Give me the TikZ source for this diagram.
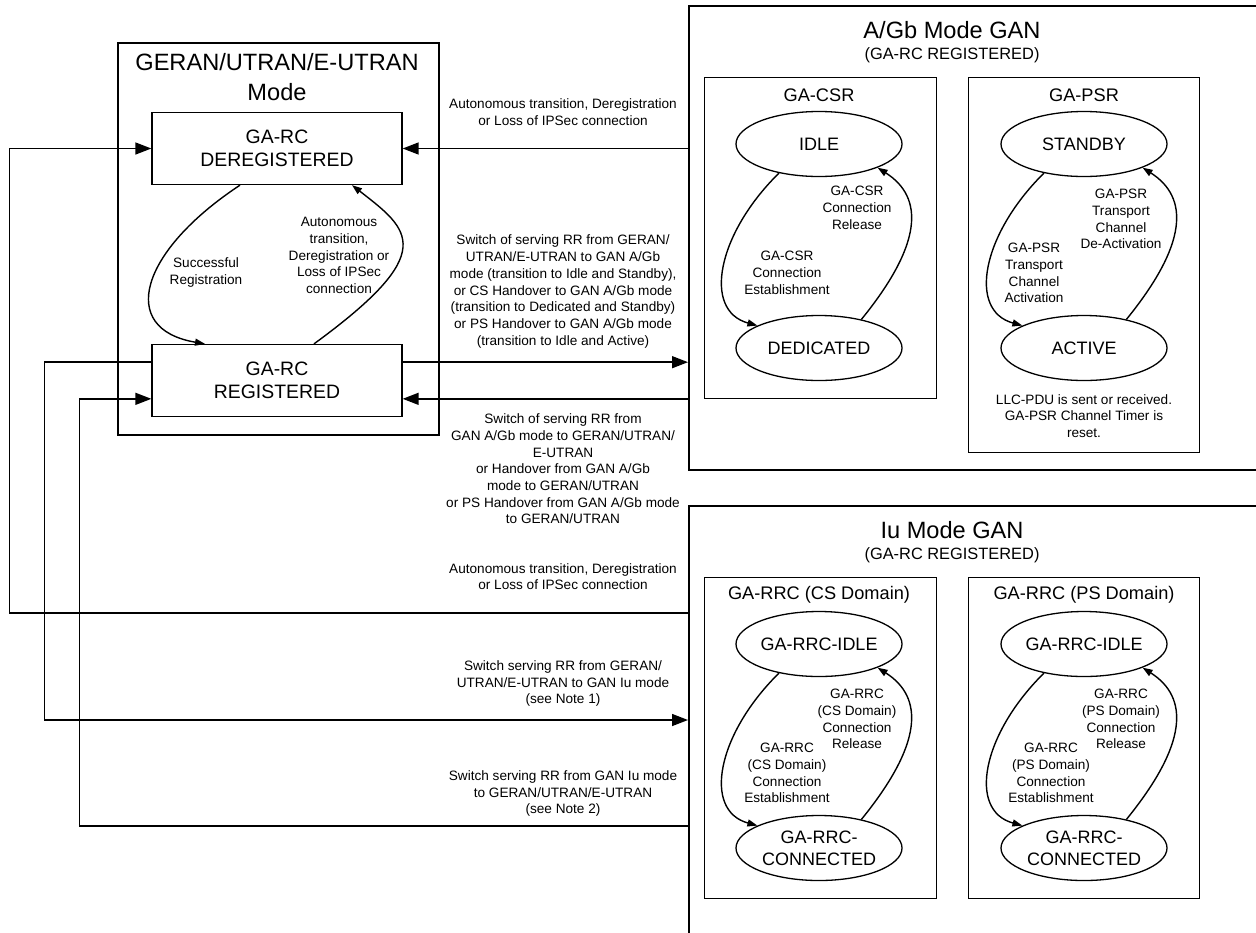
\documentclass[tikz,border=0pt]{standalone}
\usepackage{fontspec}
\setmainfont{Liberation Sans}
\usetikzlibrary{shapes.geometric,arrows.meta,calc}
\begin{document}
\begin{tikzpicture}[x=0.5pt,y=-0.5pt,
  modebox/.style={draw,line width=1.2pt,inner sep=0,anchor=north west},
  subbox/.style={draw,line width=0.65pt,inner sep=0,anchor=north west},
  rcbox/.style={draw,line width=0.65pt,minimum width=125pt,minimum height=36pt,align=center,
    font=\fontsize{9.7}{11.5}\selectfont},
  state/.style={ellipse,draw,line width=0.65pt,minimum width=83pt,minimum height=32.5pt,inner sep=0,
    align=center,font=\fontsize{9}{10.8}\selectfont},
  conn/.style={line width=0.7pt,-{Triangle[length=8pt,width=6pt]}},
  loop/.style={line width=0.7pt,-{Triangle[length=5pt,width=3.5pt]}},
  note/.style={align=center,inner sep=0,font=\fontsize{6.8}{8.35}\selectfont},
  title/.style={align=center,inner sep=0,font=\fontsize{11.8}{15}\selectfont},
  subtitle/.style={inner sep=0,font=\fontsize{8.2}{10}\selectfont},
  boxtitle/.style={inner sep=0,font=\fontsize{9.1}{11}\selectfont}]
\useasboundingbox (0,0) rectangle (1256,932);
% GERAN/UTRAN/E-UTRAN mode
\node[modebox,minimum width=160.5pt,minimum height=196pt] (geran) at (117,42) {};
\node[title] (gerantitle) at (277,77) {GERAN/UTRAN/E-UTRAN\\Mode};
\node[rcbox] (dereg) at (277,148.5) {GA-RC\\DEREGISTERED};
\node[rcbox] (reg) at (277,380.5) {GA-RC\\REGISTERED};
\draw[loop] ([xshift=-18.5pt]dereg.south) .. controls +(-100,66) and +(-88,-15) .. ([xshift=-36pt]reg.north);
\draw[loop] ([xshift=18.5pt]reg.north) .. controls +(126,-92) and +(58,45) .. ([xshift=37.5pt]dereg.south);
\node[note] (regnote) at (206,272.5) {Successful\\Registration};
\node[note] (deregnote) at (339,255.5) {Autonomous\\transition,\\Deregistration or\\Loss of IPSec\\connection};
% A/Gb mode GAN
\node[modebox,minimum width=287pt,minimum height=232pt] (agb) at (688,5) {};
\node[title] (agbtitle) at (952,30) {A/Gb Mode GAN};
\node[subtitle] (agbsub) at (952,55) {(GA-RC REGISTERED)};
\node[subbox,minimum width=116pt,minimum height=160.5pt] (csr) at (704,77) {};
\node[subbox,minimum width=115.5pt,minimum height=187.5pt] (psr) at (968,77) {};
\node[boxtitle] (csrtitle) at (819,95) {GA-CSR};
\node[boxtitle] (psrtitle) at (1084,95) {GA-PSR};
\node[state] (idle) at (819,144) {IDLE};
\node[state] (dedicated) at (819,348) {DEDICATED};
\node[state] (standby) at (1084,144) {STANDBY};
\node[state] (active) at (1084,348) {ACTIVE};
\draw[loop] (idle.216) .. controls +(-62,61) and +(-55,-15) .. (dedicated.160);
\draw[loop] (dedicated.34) .. controls +(61,-75) and +(47,30) .. (idle.338);
\draw[loop] (standby.216) .. controls +(-62,61) and +(-55,-15) .. (active.160);
\draw[loop] (active.34) .. controls +(61,-75) and +(47,30) .. (standby.338);
\node[note] (csrrel) at (857,208) {GA-CSR\\Connection\\Release};
\node[note] (csrest) at (787,273) {GA-CSR\\Connection\\Establishment};
\node[note] (psrdeact) at (1121,219) {GA-PSR\\Transport\\Channel\\De-Activation};
\node[note] (psract) at (1034,273) {GA-PSR\\Transport\\Channel\\Activation};
\node[note] (llc) at (1084,416) {LLC-PDU is sent or received.\\GA-PSR Channel Timer is\\reset.};
% Iu mode GAN
\node[modebox,minimum width=287pt,minimum height=240pt] (iu) at (688,505) {};
\node[title] (iutitle) at (952,530) {Iu Mode GAN};
\node[subtitle] (iusub) at (952,555) {(GA-RC REGISTERED)};
\node[subbox,minimum width=116pt,minimum height=160.5pt] (rrccs) at (704,577) {};
\node[subbox,minimum width=115.5pt,minimum height=160.5pt] (rrcps) at (968,577) {};
\node[boxtitle] (cstitle) at (819,595) {GA-RRC (CS Domain)};
\node[boxtitle] (pstitle) at (1084,595) {GA-RRC (PS Domain)};
\node[state] (csidle) at (819,644) {GA-RRC-IDLE};
\node[state] (csconn) at (819,848) {GA-RRC-\\CONNECTED};
\node[state] (psidle) at (1084,644) {GA-RRC-IDLE};
\node[state] (psconn) at (1084,848) {GA-RRC-\\CONNECTED};
\draw[loop] (csidle.216) .. controls +(-62,61) and +(-55,-15) .. (csconn.160);
\draw[loop] (csconn.34) .. controls +(61,-75) and +(47,30) .. (csidle.338);
\draw[loop] (psidle.216) .. controls +(-62,61) and +(-55,-15) .. (psconn.160);
\draw[loop] (psconn.34) .. controls +(61,-75) and +(47,30) .. (psidle.338);
\node[note] (csrel) at (857,719) {GA-RRC\\(CS Domain)\\Connection\\Release};
\node[note] (csest) at (787,773) {GA-RRC\\(CS Domain)\\Connection\\Establishment};
\node[note] (psrel) at (1121,719) {GA-RRC\\(PS Domain)\\Connection\\Release};
\node[note] (psest) at (1051,773) {GA-RRC\\(PS Domain)\\Connection\\Establishment};
% transitions between the modes
\coordinate (regr1) at ($(reg.north east)!0.25!(reg.south east)$);
\coordinate (regr2) at ($(reg.north east)!0.75!(reg.south east)$);
\coordinate (regl1) at ($(reg.north west)!0.25!(reg.south west)$);
\coordinate (regl2) at ($(reg.north west)!0.75!(reg.south west)$);
\coordinate (iuauto) at (688,613);
\coordinate (iuin) at (688,720);
\coordinate (iuout) at (688,826);
\draw[conn] (dereg.east -| agb.west) -- (dereg.east);
\draw[conn] (regr1) -- (regr1 -| agb.west);
\draw[conn] (regr2 -| agb.west) -- (regr2);
\draw[conn] (iuauto) -| ([xshift=-71pt]dereg.west) -- (dereg.west);
\draw[conn] (regl1) -- ++(-107,0) |- (iuin);
\draw[conn] (iuout) -| ([xshift=-36pt]regl2) -- (regl2);
\node[note] (agbauto) at (563,112) {Autonomous transition, Deregistration\\or Loss of IPSec connection};
\node[note] (toagb) at (563,291.5) {Switch of serving RR from GERAN/\\UTRAN/E-UTRAN to GAN A/Gb\\mode (transition to Idle and Standby),\\or CS Handover to GAN A/Gb mode\\(transition to Dedicated and Standby)\\or PS Handover to GAN A/Gb mode\\(transition to Idle and Active)};
\node[note] (fromagb) at (563,469) {Switch of serving RR from\\GAN A/Gb mode to GERAN/UTRAN/\\E-UTRAN\\or Handover from GAN A/Gb\\mode to GERAN/UTRAN\\or PS Handover from GAN A/Gb mode\\to GERAN/UTRAN};
\node[note] (iuautonote) at (563,576.5) {Autonomous transition, Deregistration\\or Loss of IPSec connection};
\node[note] (toiu) at (563,683.5) {Switch serving RR from GERAN/\\UTRAN/E-UTRAN to GAN Iu mode\\(see Note 1)};
\node[note] (fromiu) at (563,793.5) {Switch serving RR from GAN Iu mode\\to GERAN/UTRAN/E-UTRAN\\(see Note 2)};
\end{tikzpicture}
\end{document}
